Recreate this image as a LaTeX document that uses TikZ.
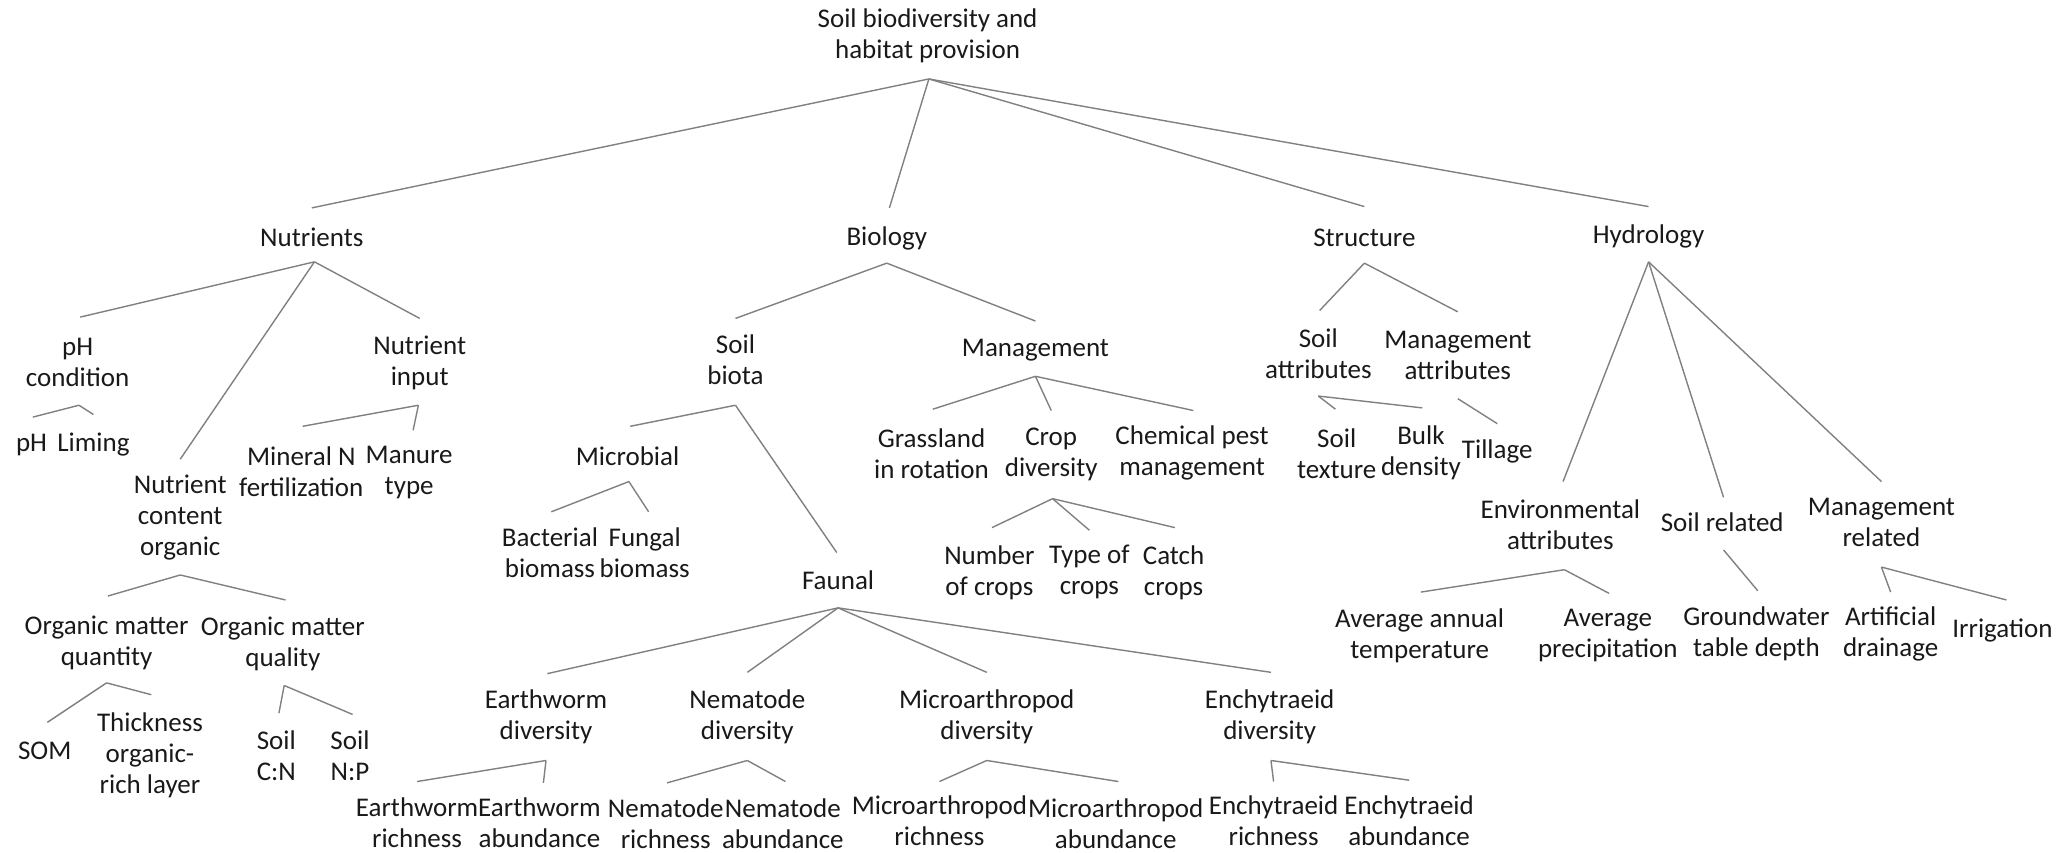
\documentclass[tikz,border=0pt]{standalone}
\usepackage{fontspec}
\setmainfont{Carlito}
\begin{document}
\begin{tikzpicture}[x=0.6579pt,y=-0.6579pt,
  lbl/.style={align=center,inner sep=0pt,text=black!90,
    font=\fontsize{13.5pt}{15.5pt}\selectfont},
  link/.style={draw=black!50,line width=0.7pt}]
\useasboundingbox (0,0) rectangle (1568,648);

% ---------- labels ----------
\node[lbl] (root) at (705,27.5) {Soil biodiversity and\\habitat provision};
\node[lbl] (nut) at (237,180) {Nutrients};
\node[lbl] (bio) at (674,181) {Biology};
\node[lbl] (str) at (1037,181) {Structure};
\node[lbl] (hyd) at (1253,180) {Hydrology};

\node[lbl] (phc) at (59,275.5) {pH\\condition};
\node[lbl] (nin) at (319,275.5) {Nutrient\\input};
\node[lbl] (ph)  at (24,338) {pH};
\node[lbl] (lim) at (71,338) {Liming};
\node[lbl] (nco) at (137,393) {Nutrient\\content\\organic};
\node[lbl] (mnf) at (229,358.5) {Mineral N\\fertilization};
\node[lbl] (mty) at (311,359) {Manure\\type};
\node[lbl] (omq) at (81,488.5) {Organic matter\\quantity};
\node[lbl] (oml) at (215,489.5) {Organic matter\\quality};
\node[lbl] (som) at (34,571) {SOM};
\node[lbl] (thk) at (114,574) {Thickness\\organic-\\rich layer};
\node[lbl] (scn) at (210,574.5) {Soil\\C:N};
\node[lbl] (snp) at (266,574.5) {Soil\\N:P};

\node[lbl] (sbt) at (559,273.5) {Soil\\biota};
\node[lbl] (mgt) at (787,266) {Management};
\node[lbl] (mic) at (477,347) {Microbial};
\node[lbl] (bac) at (418,420) {Bacterial\\biomass};
\node[lbl] (fun) at (490,420) {Fungal\\biomass};
\node[lbl] (fau) at (637,441) {Faunal};
\node[lbl] (gra) at (708,344.5) {Grassland\\in rotation};
\node[lbl] (cro) at (799,345) {Crop\\diversity};
\node[lbl] (che) at (906,344.5) {Chemical pest\\management};
\node[lbl] (noc) at (752,435) {Number\\of crops};
\node[lbl] (toc) at (828,435) {Type of\\crops};
\node[lbl] (cat) at (892,435) {Catch\\crops};

\node[lbl] (ewd) at (415,545) {Earthworm\\diversity};
\node[lbl] (nmd) at (568,545) {Nematode\\diversity};
\node[lbl] (mad) at (750,545) {Microarthropod\\diversity};
\node[lbl] (enc) at (965,545) {Enchytraeid\\diversity};
\node[lbl] (ewr) at (317,625.5) {Earthworm\\richness};
\node[lbl] (ewa) at (410,625.5) {Earthworm\\abundance};
\node[lbl] (nmr) at (506,626) {Nematode\\richness};
\node[lbl] (nma) at (595,626) {Nematode\\abundance};
\node[lbl] (mar) at (714,624) {Microarthropod\\richness};
\node[lbl] (maa) at (848,626) {Microarthropod\\abundance};
\node[lbl] (enr) at (968,624) {Enchytraeid\\richness};
\node[lbl] (ena) at (1071,624) {Enchytraeid\\abundance};

\node[lbl] (sat) at (1002,268.5) {Soil\\attributes};
\node[lbl] (mat) at (1108,270) {Management\\attributes};
\node[lbl] (stx) at (1016,344.5) {Soil\\texture};
\node[lbl] (bul) at (1080,344.5) {Bulk\\density};
\node[lbl] (til) at (1138,343) {Tillage};

\node[lbl] (env) at (1186,399) {Environmental\\attributes};
\node[lbl] (srl) at (1309,397) {Soil related};
\node[lbl] (mrl) at (1430,397) {Management\\related};
\node[lbl] (aat) at (1079,483) {Average annual\\temperature};
\node[lbl] (apr) at (1222,483) {Average\\precipitation};
\node[lbl] (gwt) at (1335,482) {Groundwater\\table depth};
\node[lbl] (art) at (1437,482) {Artificial\\drainage};
\node[lbl] (irr) at (1522,479) {Irrigation};

% ---------- branch points (below parents) ----------
\coordinate (root-a) at (706,60);
\coordinate (nut-a) at (239,199);
\coordinate (phc-a) at (60,308);
\coordinate (nin-a) at (318,308);
\coordinate (nco-a) at (137,437);
\coordinate (omq-a) at (81,519);
\coordinate (oml-a) at (216,521);
\coordinate (bio-a) at (674,200);
\coordinate (sbt-a) at (559,308);
\coordinate (mic-a) at (478,366);
\coordinate (mgt-a) at (787,286);
\coordinate (cro-a) at (800,379);
\coordinate (fau-a) at (637,462);
\coordinate (ewd-a) at (415,578);
\coordinate (nmd-a) at (568,578);
\coordinate (mad-a) at (750,578);
\coordinate (enc-a) at (966,578);
\coordinate (str-a) at (1037,200);
\coordinate (sat-a) at (1002,301);
\coordinate (mat-a) at (1108,303);
\coordinate (hyd-a) at (1253,199);
\coordinate (env-a) at (1189,433);
\coordinate (srl-a) at (1310,418);
\coordinate (mrl-a) at (1430,431);

% ---------- end points (above children) ----------
\coordinate (nut-t) at (237,158);
\coordinate (bio-t) at (676,158);
\coordinate (str-t) at (1037,157);
\coordinate (hyd-t) at (1253,157);
\coordinate (phc-t) at (61,241);
\coordinate (nco-t) at (137,349);
\coordinate (nin-t) at (319,242);
\coordinate (ph-t)  at (25,317);
\coordinate (lim-t) at (71,315);
\coordinate (mnf-t) at (230,324);
\coordinate (mty-t) at (314,327);
\coordinate (omq-t) at (82,453);
\coordinate (oml-t) at (217,456);
\coordinate (som-t) at (36,549);
\coordinate (thk-t) at (115,528);
\coordinate (scn-t) at (212,542);
\coordinate (snp-t) at (268,543);
\coordinate (sbt-t) at (559,242);
\coordinate (mgt-t) at (787,244);
\coordinate (mic-t) at (479,324);
\coordinate (fau-t) at (636,420);
\coordinate (bac-t) at (419,389);
\coordinate (fun-t) at (493,389);
\coordinate (gra-t) at (709,311);
\coordinate (cro-t) at (799,312);
\coordinate (che-t) at (907,312);
\coordinate (noc-t) at (754,401);
\coordinate (toc-t) at (828,403);
\coordinate (cat-t) at (893,401);
\coordinate (ewd-t) at (416,512);
\coordinate (nmd-t) at (568,511);
\coordinate (mad-t) at (750,511);
\coordinate (enc-t) at (966,511);
\coordinate (ewr-t) at (317,594);
\coordinate (ewa-t) at (413,595);
\coordinate (nmr-t) at (507,595);
\coordinate (nma-t) at (597,594);
\coordinate (mar-t) at (714,594);
\coordinate (maa-t) at (850,594);
\coordinate (enr-t) at (968,594);
\coordinate (ena-t) at (1071,593);
\coordinate (sat-t) at (1003,236);
\coordinate (mat-t) at (1108,237);
\coordinate (stx-t) at (1015,311);
\coordinate (bul-t) at (1081,310);
\coordinate (til-t) at (1138,322);
\coordinate (env-t) at (1188,366);
\coordinate (srl-t) at (1310,378);
\coordinate (mrl-t) at (1430,366);
\coordinate (aat-t) at (1080,450);
\coordinate (apr-t) at (1223,451);
\coordinate (gwt-t) at (1336,449);
\coordinate (art-t) at (1437,450);
\coordinate (irr-t) at (1525,456);

% ---------- connectors ----------
\foreach \p/\c in {root/nut,root/bio,root/str,root/hyd,
  nut/phc,nut/nco,nut/nin,phc/ph,phc/lim,nin/mnf,nin/mty,
  nco/omq,nco/oml,omq/som,omq/thk,oml/scn,oml/snp,
  bio/sbt,bio/mgt,sbt/mic,sbt/fau,mic/bac,mic/fun,
  mgt/gra,mgt/cro,mgt/che,cro/noc,cro/toc,cro/cat,
  fau/ewd,fau/nmd,fau/mad,fau/enc,
  ewd/ewr,ewd/ewa,nmd/nmr,nmd/nma,mad/mar,mad/maa,enc/enr,enc/ena,
  str/sat,str/mat,sat/stx,sat/bul,mat/til,
  hyd/env,hyd/srl,hyd/mrl,env/aat,env/apr,srl/gwt,mrl/art,mrl/irr}
  \draw[link] (\p-a) -- (\c-t);
\end{tikzpicture}
\end{document}
